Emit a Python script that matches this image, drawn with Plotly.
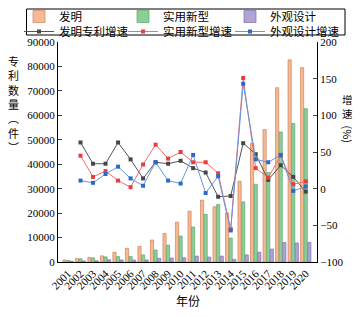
import plotly.graph_objects as go

years = [str(y) for y in range(2001, 2021)]
invention = [800, 1400, 1900, 2500, 4000, 5600, 6400, 9000, 11700, 16300,
             20800, 25300, 22600, 20100, 33000, 48500, 54200, 71300, 82700, 79500]
utility = [600, 1300, 1700, 2100, 2200, 2200, 2900, 4900, 6900, 10600,
           14300, 19500, 23500, 9800, 24600, 31800, 36600, 53200, 56700, 62700]
design = [300, 400, 500, 900, 800, 800, 800, 1500, 1600, 1700,
          2400, 2000, 2400, 1100, 2900, 4000, 5300, 8000, 7800, 8000]

growth_years = years[1:]
inv_growth = [63, 34, 34, 63, 40, 14, 36, 34, 38, 28, 22, -11, -10, 62, 47, 12, 32, 16, -4]
uti_growth = [45, 16, 24, 11, 2, 33, 60, 41, 50, 36, 36, 21, -55, 151, 28, 15, 45, 6, 10]
des_growth = [11, 8, 20, 30, 14, 4, 36, 11, 7, 46, -6, 17, -57, 143, 40, 36, 46, -3, 3]

serif = "Liberation Serif"
cjk = "Noto Sans CJK SC"

# plot area in screen pixels (page has 8px body offset)
PL, PR, PT, PB = 58, 317, 42, 262
PW, PH = PR - PL, PB - PT


def px(sx):
    return (sx - PL) / PW


def py(sy):
    return (PB - sy) / PH


fig = go.Figure()
fig.add_trace(go.Bar(x=years, y=invention, name="发明", legend="legend",
                     marker=dict(color="rgb(247,185,145)", line=dict(color="rgb(205,130,95)", width=0.7))))
fig.add_trace(go.Bar(x=years, y=utility, name="实用新型", legend="legend2",
                     marker=dict(color="rgb(140,206,152)", line=dict(color="rgb(95,165,110)", width=0.7))))
fig.add_trace(go.Bar(x=years, y=design, name="外观设计", legend="legend3",
                     marker=dict(color="rgb(176,164,212)", line=dict(color="rgb(125,110,170)", width=0.7))))
fig.add_trace(go.Scatter(x=growth_years, y=inv_growth, name="发明专利增速", yaxis="y2", legend="legend4",
                         mode="lines+markers", line=dict(color="rgb(85,85,85)", width=1),
                         marker=dict(symbol="square", size=4, color="rgb(70,70,70)")))
fig.add_trace(go.Scatter(x=growth_years, y=uti_growth, name="实用新型增速", yaxis="y2", legend="legend5",
                         mode="lines+markers", line=dict(color="rgb(245,110,110)", width=1),
                         marker=dict(symbol="square", size=4, color="rgb(235,60,60)")))
fig.add_trace(go.Scatter(x=growth_years, y=des_growth, name="外观设计增速", yaxis="y2", legend="legend6",
                         mode="lines+markers", line=dict(color="rgb(100,150,225)", width=1),
                         marker=dict(symbol="square", size=4, color="rgb(45,105,200)")))


def leg(sx, sy):
    return dict(orientation="h", xref="paper", yref="paper",
                x=px(sx), xanchor="left", y=py(sy), yanchor="top",
                font=dict(family=cjk, size=11.5, color="black"),
                borderwidth=0, bgcolor="rgba(0,0,0,0)", itemwidth=30)


col_x = [19, 123, 230]
row_y = [2, 17]

fig.update_layout(
    width=353, height=309,
    margin=dict(l=50, r=44, t=34, b=55, autoexpand=False),
    paper_bgcolor="white", plot_bgcolor="white",
    barmode="group", bargap=0.14, bargroupgap=0.12,
    font=dict(family=serif, size=11, color="black"),
    showlegend=True,
    legend=leg(col_x[0], row_y[0]),
    legend2=leg(col_x[1], row_y[0]),
    legend3=leg(col_x[2], row_y[0]),
    legend4=leg(col_x[0], row_y[1]),
    legend5=leg(col_x[1], row_y[1]),
    legend6=leg(col_x[2], row_y[1]),
    xaxis=dict(type="category", range=[-0.8, 19.9], tickangle=-45,
               tickmode="array", tickvals=years, ticktext=years,
               showline=True, linecolor="black", linewidth=1, ticks="",
               showgrid=False, tickfont=dict(family=serif, size=11)),
    yaxis=dict(range=[0, 90000], dtick=10000, tickformat="d", showline=True, linecolor="black",
               linewidth=1, ticks="inside", ticklen=4, showgrid=False, zeroline=False,
               tickfont=dict(family=serif, size=11)),
    yaxis2=dict(range=[-100, 200], dtick=50, overlaying="y", side="right",
                showline=True, linecolor="black", linewidth=1, ticks="inside",
                ticklen=4, showgrid=False, zeroline=False,
                tickfont=dict(family=serif, size=11)),
    shapes=[dict(type="rect", xref="paper", yref="paper",
                 x0=px(26.5), x1=px(345), y0=py(35), y1=py(9),
                 line=dict(color="black", width=1), fillcolor="rgba(0,0,0,0)")],
    annotations=[
        dict(text="专<br>利<br>数<br>量<br>︵<br>件<br>︶", xref="paper", yref="paper",
             x=px(13), y=py(104), xanchor="center", yanchor="middle", showarrow=False,
             font=dict(family=cjk, size=11)),
        dict(text="增<br>速", xref="paper", yref="paper",
             x=px(347), y=py(106), xanchor="center", yanchor="middle", showarrow=False,
             font=dict(family=cjk, size=10.5)),
        dict(text="(%)", xref="paper", yref="paper", textangle=90,
             x=px(347), y=py(134.5), xanchor="center", yanchor="middle", showarrow=False,
             font=dict(family=cjk, size=11)),
        dict(text="年份", xref="paper", yref="paper",
             x=0.5, y=py(300), xanchor="center", yanchor="middle", showarrow=False,
             font=dict(family=cjk, size=12)),
    ],
)

fig.write_html("out.html")
